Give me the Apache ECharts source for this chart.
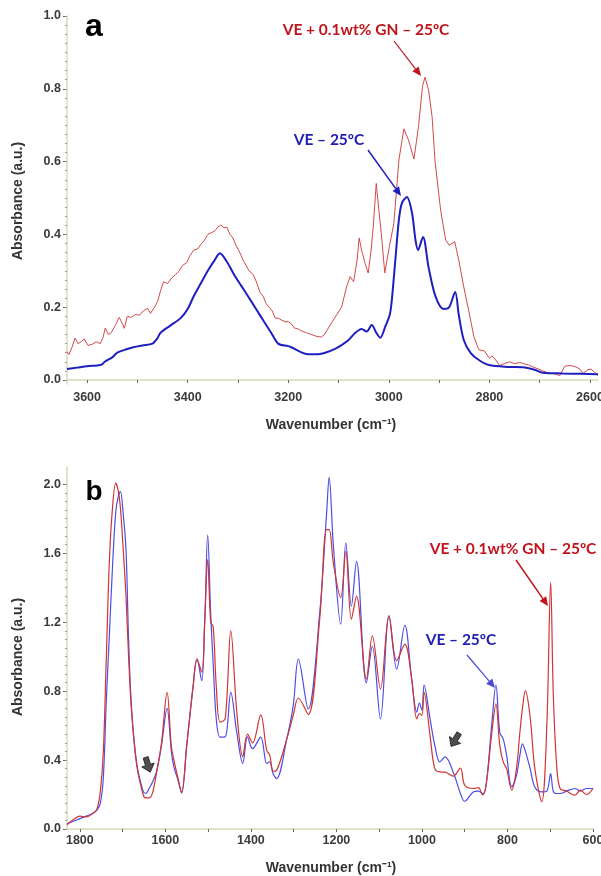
<!DOCTYPE html>
<html><head><meta charset="utf-8">
<script src="https://cdn.jsdelivr.net/npm/echarts@6/dist/echarts.min.js"></script>
<style>html,body{margin:0;padding:0;background:#fff}#c{width:601px;height:876px}</style>
</head><body><div id="c"></div>
<script>
// ---------- Panel a (3640–2584 cm-1) ----------
const wnA_VE = [3640,3620,3600,3580,3570,3565,3550,3540,3520,3508,3490,3470,3460,3454,3434,3414,3400,3388,3374,3360,3346,3336,3322,3308,3294,3280,3264,3248,3234,3220,3200,3194,3174,3161,3140,3128,3108,3094,3080,3067,3054,3044,3034,3025,3017,3007,2998,2994,2987,2980,2974,2964,2954,2947,2942,2932,2921,2907,2891,2880,2868,2861,2851,2837,2821,2801,2760,2734,2710,2694,2654,2620,2584];
const absA_VE = [0.030,0.034,0.038,0.040,0.043,0.050,0.062,0.075,0.085,0.090,0.095,0.100,0.115,0.130,0.150,0.170,0.195,0.230,0.265,0.300,0.330,0.348,0.325,0.290,0.260,0.230,0.195,0.160,0.130,0.100,0.093,0.090,0.076,0.071,0.071,0.074,0.085,0.096,0.110,0.129,0.140,0.133,0.151,0.130,0.116,0.147,0.180,0.220,0.330,0.440,0.486,0.503,0.460,0.385,0.357,0.393,0.310,0.229,0.195,0.200,0.242,0.180,0.110,0.074,0.055,0.041,0.036,0.035,0.028,0.020,0.018,0.017,0.016];
const wnA_GN = [3640,3636,3630,3624,3618,3612,3606,3598,3590,3582,3574,3568,3564,3558,3552,3544,3536,3530,3526,3520,3512,3504,3496,3488,3480,3474,3466,3460,3454,3448,3440,3432,3424,3418,3410,3402,3396,3388,3380,3374,3366,3360,3352,3346,3340,3334,3328,3322,3316,3310,3304,3298,3290,3284,3278,3270,3264,3256,3250,3244,3238,3232,3226,3220,3214,3206,3200,3194,3188,3180,3174,3164,3154,3144,3134,3128,3114,3094,3084,3077,3070,3063,3059,3053,3047,3041,3035,3031,3025,3020,3015,3008,2999,2990,2980,2970,2961,2950,2941,2933,2928,2921,2914,2908,2897,2887,2880,2869,2861,2851,2841,2831,2821,2810,2800,2795,2790,2780,2770,2760,2750,2740,2734,2720,2708,2694,2680,2670,2660,2650,2640,2628,2620,2614,2604,2598,2590,2584];
const absA_GN = [0.078,0.070,0.090,0.115,0.100,0.105,0.113,0.095,0.098,0.105,0.100,0.118,0.143,0.125,0.130,0.150,0.172,0.155,0.142,0.175,0.172,0.180,0.178,0.190,0.197,0.183,0.200,0.215,0.245,0.270,0.265,0.280,0.290,0.298,0.315,0.322,0.340,0.357,0.360,0.372,0.385,0.400,0.405,0.410,0.420,0.426,0.418,0.420,0.400,0.390,0.370,0.355,0.330,0.315,0.300,0.290,0.272,0.240,0.230,0.210,0.200,0.190,0.170,0.170,0.165,0.160,0.160,0.155,0.143,0.140,0.135,0.130,0.125,0.120,0.118,0.125,0.157,0.200,0.256,0.284,0.270,0.330,0.390,0.350,0.320,0.294,0.360,0.420,0.540,0.470,0.403,0.294,0.366,0.430,0.604,0.690,0.660,0.607,0.696,0.807,0.832,0.797,0.724,0.600,0.467,0.385,0.370,0.380,0.330,0.256,0.190,0.120,0.083,0.080,0.060,0.066,0.060,0.040,0.045,0.050,0.045,0.048,0.046,0.040,0.033,0.025,0.018,0.017,0.012,0.038,0.040,0.036,0.030,0.018,0.028,0.030,0.020,0.012];
const xLabelsA = [3600,3400,3200,3000,2800,2600];
const yLabelsA = [0.0,0.2,0.4,0.6,0.8,1.0];

// ---------- Panel b (1830–600 cm-1) ----------
const wnB = [1830,1815,1800,1785,1770,1760,1752,1745,1738,1731,1724,1716,1710,1705,1699,1692,1686,1679,1667,1652,1646,1638,1630,1621,1609,1596,1586,1580,1570,1562,1550,1535,1526,1515,1508,1501,1494,1488,1481,1472,1460,1447,1433,1419,1408,1396,1377,1363,1356,1348,1340,1316,1301,1289,1266,1239,1223,1217,1207,1190,1178,1165,1153,1130,1116,1097,1077,1059,1040,1024,1012,1006,1000,995,981,970,958,946,927,910,900,880,868,858,850,837,827,818,810,802,790,779,771,765,758,747,736,720,708,699,693,685,677,662,642,630,615,600];
const absB_VE = [0.030,0.045,0.060,0.075,0.090,0.110,0.150,0.300,0.750,1.120,1.500,1.840,1.930,1.958,1.840,1.620,1.100,0.700,0.380,0.220,0.206,0.235,0.273,0.330,0.485,0.700,0.450,0.360,0.280,0.210,0.485,0.830,0.985,0.860,1.200,1.707,1.250,0.950,0.640,0.533,0.535,0.793,0.560,0.380,0.535,0.466,0.533,0.380,0.390,0.320,0.292,0.523,0.716,0.985,0.697,1.255,1.830,2.040,1.640,1.188,1.660,1.293,1.553,0.847,1.060,0.639,1.236,0.928,1.182,0.870,0.678,0.730,0.690,0.835,0.639,0.485,0.389,0.418,0.331,0.206,0.161,0.215,0.220,0.205,0.254,0.600,0.835,0.560,0.523,0.427,0.244,0.310,0.427,0.494,0.450,0.350,0.244,0.215,0.220,0.321,0.220,0.206,0.206,0.220,0.235,0.220,0.235,0.235];
const absB_GN = [0.025,0.055,0.075,0.070,0.090,0.115,0.220,0.450,1.000,1.550,1.850,2.006,1.960,1.860,1.640,1.350,1.000,0.680,0.370,0.200,0.180,0.180,0.210,0.320,0.500,0.793,0.480,0.400,0.290,0.210,0.485,0.830,0.985,0.910,1.200,1.563,1.200,1.170,0.830,0.620,0.640,1.149,0.680,0.420,0.550,0.500,0.662,0.456,0.430,0.335,0.340,0.523,0.660,0.760,0.664,1.220,1.737,1.737,1.540,1.342,1.611,1.217,1.351,0.870,1.120,0.812,1.236,0.976,1.072,0.870,0.639,0.670,0.660,0.793,0.542,0.350,0.331,0.330,0.306,0.354,0.254,0.235,0.240,0.196,0.254,0.550,0.726,0.485,0.389,0.350,0.226,0.350,0.560,0.700,0.803,0.650,0.350,0.158,0.600,1.432,0.793,0.369,0.235,0.220,0.196,0.225,0.200,0.235];
const xLabelsB = [1800,1600,1400,1200,1000,800,600];
const yLabelsB = [0.0,0.4,0.8,1.2,1.6,2.0];

const seriesNames = ['VE – 25ºC', 'VE + 0.1wt% GN – 25ºC'];

// ---------- helpers ----------
const pairs = (xs, ys) => xs.map((x, i) => [x, ys[i]]);
const steps = (a, b, s) => { const r = []; for (let v = a; v <= b + 1e-9; v += s) r.push(+v.toFixed(4)); return r; };
const FONT = '"Liberation Sans", Arial, sans-serif';
const axisCol = '#d8d8bc';
const labelStyle = { color: '#3a3a3a', fontWeight: 'bold', fontSize: 12.5, fontFamily: FONT };

function xAxisCfg(grid, min, max, labels, tickVals, margin) {
  return {
    type: 'value', gridIndex: grid, min: min, max: max, inverse: true,
    splitLine: { show: false },
    axisLine: { show: true, lineStyle: { color: axisCol, width: 1.5 } },
    axisTick: { show: true, customValues: tickVals, length: 3, inside: false, lineStyle: { color: '#666' } },
    axisLabel: Object.assign({ customValues: labels, margin: margin, hideOverlap: false, formatter: v => String(Math.round(v)) }, labelStyle)
  };
}
function yAxisCfg(grid, min, max, labels, dec) {
  return {
    type: 'value', gridIndex: grid, min: min, max: max,
    splitLine: { show: false },
    axisLine: { show: true, lineStyle: { color: axisCol, width: 1.5 } },
    axisTick: { show: true, customValues: labels, length: 4, lineStyle: { color: '#666' } },
    axisLabel: Object.assign({ customValues: labels, margin: 6, formatter: v => v.toFixed(dec) }, labelStyle)
  };
}
function yMinorCfg(grid, min, max, vals) {
  return {
    type: 'value', gridIndex: grid, min: min, max: max, position: 'left',
    splitLine: { show: false }, axisLine: { show: false },
    axisTick: { show: true, customValues: vals, length: 2, lineStyle: { color: '#9a9a9a' } },
    axisLabel: { show: false }
  };
}

function arrow(x1, y1, x2, y2, color, w, L, hw) {
  const dx = x2 - x1, dy = y2 - y1, len = Math.hypot(dx, dy);
  const ux = dx / len, uy = dy / len, bx = x2 - ux * L, by = y2 - uy * L, px = -uy, py = ux;
  return [
    { type: 'line', shape: { x1: x1, y1: y1, x2: bx, y2: by }, style: { stroke: color, lineWidth: w }, z: 100 },
    { type: 'polygon', shape: { points: [[x2, y2], [bx + px * hw, by + py * hw], [bx - px * hw, by - py * hw]] }, style: { fill: color }, z: 100 }
  ];
}
function blockArrow(cx, cy, rot) {
  return { type: 'polygon', x: cx, y: cy, rotation: rot,
    shape: { points: [[-2.6, -8], [2.6, -8], [2.6, 0], [6.5, 0], [0, 7.5], [-6.5, 0], [-2.6, 0]] },
    style: { fill: '#4d4d4d', stroke: '#222', lineWidth: 0.8 }, z: 100 };
}
function txt(x, y, s, color, size, extra) {
  return Object.assign({ type: 'text', x: x, y: y, z: 100,
    style: { text: s, fill: color, font: 'bold ' + size + 'px ' + (extra && extra.family || FONT), textAlign: 'center', textVerticalAlign: 'middle', verticalAlign: 'middle' } },
    extra && extra.rot ? { rotation: extra.rot } : {});
}

const chart = echarts.init(document.getElementById('c'), null, { renderer: 'canvas' });
const ANN = '"Lato", "Open Sans", sans-serif';
const redTxt = '#c0141c', blueTxt = '#2020b0';

const option = {
  backgroundColor: '#ffffff',
  animation: false,
  grid: [
    { left: 67, top: 16, width: 531, height: 368, containLabel: false, outerBoundsMode: 'none' },
    { left: 67, top: 467, width: 526, height: 362, containLabel: false, outerBoundsMode: 'none' }
  ],
  xAxis: [
    xAxisCfg(0, 2584, 3640, xLabelsA, steps(2600, 3600, 100), 7),
    xAxisCfg(1, 600, 1830, xLabelsB, steps(600, 1800, 100), 5)
  ],
  yAxis: [
    yAxisCfg(0, -0.011, 1.0, yLabelsA, 1),
    yMinorCfg(0, -0.011, 1.0, steps(0, 1.0, 0.025)),
    yAxisCfg(1, 0, 2.1, yLabelsB, 1),
    yMinorCfg(1, 0, 2.1, steps(0, 2.0, 0.05))
  ],
  series: [
    { name: seriesNames[1], type: 'line', xAxisIndex: 0, yAxisIndex: 0, data: pairs(wnA_GN, absA_GN), symbol: 'none', smooth: false,
      lineStyle: { color: '#d44a4a', width: 1 }, z: 3 },
    { name: seriesNames[0], type: 'line', xAxisIndex: 0, yAxisIndex: 0, data: pairs(wnA_VE, absA_VE), symbol: 'none', smooth: 0.3,
      lineStyle: { color: '#1f1fc0', width: 2 }, z: 4 },
    { name: seriesNames[0], type: 'line', xAxisIndex: 1, yAxisIndex: 2, data: pairs(wnB, absB_VE), symbol: 'none', smooth: 0.35,
      lineStyle: { color: '#4d4de6', width: 1.2 }, z: 3 },
    { name: seriesNames[1], type: 'line', xAxisIndex: 1, yAxisIndex: 2, data: pairs(wnB, absB_GN), symbol: 'none', smooth: 0.35,
      lineStyle: { color: '#d03434', width: 1.2 }, z: 4 }
  ],
  graphic: [
    txt(94, 27, 'a', '#000', 32),
    txt(94, 492, 'b', '#000', 28),
    txt(18, 201, 'Absorbance (a.u.)', '#333', 14, { rot: Math.PI / 2 }),
    txt(18, 657, 'Absorbance (a.u.)', '#333', 14, { rot: Math.PI / 2 }),
    txt(331, 425, 'Wavenumber (cm⁻¹)', '#333', 14),
    txt(331, 868, 'Wavenumber (cm⁻¹)', '#333', 14),
    txt(366, 30, seriesNames[1], redTxt, 15.5, { family: ANN }),
    txt(329, 140, seriesNames[0], blueTxt, 15.5, { family: ANN }),
    txt(513, 549, seriesNames[1], redTxt, 15.5, { family: ANN }),
    txt(461, 640, seriesNames[0], blueTxt, 15.5, { family: ANN }),
    ...arrow(394, 41, 421, 76, '#c0141c', 1.2, 9, 4),
    ...arrow(368, 150, 401, 196, '#1f1fc0', 1.5, 9, 4),
    ...arrow(516, 560, 548, 606, '#c0141c', 1.5, 9, 4),
    ...arrow(467, 655, 495, 688, '#4a4ad8', 1.2, 9, 4),
    blockArrow(148, 765, 0.3),
    blockArrow(455, 740, -0.55)
  ]
};
chart.setOption(option);
</script></body></html>
